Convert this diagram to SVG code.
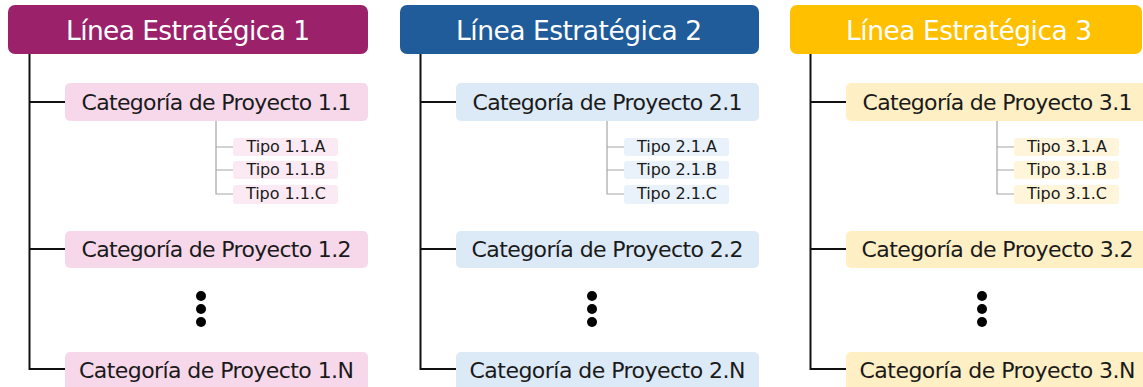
<svg xmlns="http://www.w3.org/2000/svg" width="1143" height="387" viewBox="0 0 1143 387">
<style>
text{font-family:"DejaVu Sans","Liberation Sans",Arial,sans-serif;text-anchor:middle}
.ht{font-size:26.5px;fill:#ffffff}
.ct{font-size:22px;fill:#1a1a1a}
.tt{font-size:16px;fill:#1a1a1a}
.main{fill:none;stroke:#111111;stroke-width:2}
.sub{fill:none;stroke:#a6a6a6;stroke-width:1.2}
.h1{fill:#9b216b}.c1{fill:#f6d8ea}.t1{fill:#fbeaf4}
.h2{fill:#1f5c99}.c2{fill:#dce9f6}.t2{fill:#e9f1fa}
.h3{fill:#ffc000}.c3{fill:#ffefc4}.t3{fill:#fff5da}
</style>
<g id="connectors">
<path class="main" d="M29.5 54V369H65M29.5 102H65M29.5 249H65"/>
<path class="sub" d="M216 121V194H233M216 147H233M216 170H233"/>
<path class="main" d="M420.5 54V369H456M420.5 102H456M420.5 249H456"/>
<path class="sub" d="M607 121V194H624M607 147H624M607 170H624"/>
<path class="main" d="M810.5 54V369H846M810.5 102H846M810.5 249H846"/>
<path class="sub" d="M997 121V194H1014M997 147H1014M997 170H1014"/>
</g>
<!-- Column 1 -->
<g id="linea1"><rect class="h1" x="8" y="5" width="360" height="49" rx="7"/><text class="ht" x="188" y="40" textLength="244">Línea Estratégica 1</text></g>
<g id="cat11"><rect class="c1" x="65" y="83" width="303" height="38" rx="5"/><text class="ct" x="216.5" y="110" textLength="270">Categoría de Proyecto 1.1</text></g>
<g id="tipo11a"><rect class="t1" x="233" y="138" width="105" height="18" rx="3"/><text class="tt" x="286" y="152" textLength="79">Tipo 1.1.A</text></g>
<g id="tipo11b"><rect class="t1" x="233" y="161" width="105" height="18" rx="3"/><text class="tt" x="286" y="175" textLength="79">Tipo 1.1.B</text></g>
<g id="tipo11c"><rect class="t1" x="233" y="185" width="105" height="19" rx="3"/><text class="tt" x="286" y="199" textLength="80">Tipo 1.1.C</text></g>
<g id="cat12"><rect class="c1" x="65" y="231" width="303" height="37" rx="5"/><text class="ct" x="216.5" y="257" textLength="270">Categoría de Proyecto 1.2</text></g>
<g id="dots1"><circle cx="201" cy="296" r="5"/><circle cx="201" cy="309" r="5"/><circle cx="201" cy="322" r="5"/></g>
<g id="cat1n"><rect class="c1" x="65" y="352" width="303" height="42" rx="5"/><text class="ct" x="216.5" y="378" textLength="275">Categoría de Proyecto 1.N</text></g>
<!-- Column 2 -->
<g id="linea2"><rect class="h2" x="400" y="5" width="359" height="49" rx="7"/><text class="ht" x="579" y="40" textLength="246">Línea Estratégica 2</text></g>
<g id="cat21"><rect class="c2" x="456" y="83" width="303" height="38" rx="5"/><text class="ct" x="607.5" y="110" textLength="270">Categoría de Proyecto 2.1</text></g>
<g id="tipo21a"><rect class="t2" x="624" y="138" width="105" height="18" rx="3"/><text class="tt" x="677" y="152" textLength="80">Tipo 2.1.A</text></g>
<g id="tipo21b"><rect class="t2" x="624" y="161" width="105" height="18" rx="3"/><text class="tt" x="677" y="175" textLength="80">Tipo 2.1.B</text></g>
<g id="tipo21c"><rect class="t2" x="624" y="185" width="105" height="19" rx="3"/><text class="tt" x="677" y="199" textLength="80">Tipo 2.1.C</text></g>
<g id="cat22"><rect class="c2" x="456" y="231" width="303" height="37" rx="5"/><text class="ct" x="607.5" y="257" textLength="272">Categoría de Proyecto 2.2</text></g>
<g id="dots2"><circle cx="592" cy="296" r="5"/><circle cx="592" cy="309" r="5"/><circle cx="592" cy="322" r="5"/></g>
<g id="cat2n"><rect class="c2" x="456" y="352" width="303" height="42" rx="5"/><text class="ct" x="607.5" y="378" textLength="276">Categoría de Proyecto 2.N</text></g>
<!-- Column 3 -->
<g id="linea3"><rect class="h3" x="790" y="5" width="352" height="49" rx="7"/><text class="ht" x="969" y="40" textLength="246">Línea Estratégica 3</text></g>
<g id="cat31"><rect class="c3" x="846" y="83" width="303" height="38" rx="5"/><text class="ct" x="997.5" y="110" textLength="270">Categoría de Proyecto 3.1</text></g>
<g id="tipo31a"><rect class="t3" x="1014" y="138" width="105" height="18" rx="3"/><text class="tt" x="1067" y="152" textLength="80">Tipo 3.1.A</text></g>
<g id="tipo31b"><rect class="t3" x="1014" y="161" width="105" height="18" rx="3"/><text class="tt" x="1067" y="175" textLength="80">Tipo 3.1.B</text></g>
<g id="tipo31c"><rect class="t3" x="1014" y="185" width="105" height="19" rx="3"/><text class="tt" x="1067" y="199" textLength="80">Tipo 3.1.C</text></g>
<g id="cat32"><rect class="c3" x="846" y="231" width="303" height="37" rx="5"/><text class="ct" x="997.5" y="257" textLength="272">Categoría de Proyecto 3.2</text></g>
<g id="dots3"><circle cx="982" cy="296" r="5"/><circle cx="982" cy="309" r="5"/><circle cx="982" cy="322" r="5"/></g>
<g id="cat3n"><rect class="c3" x="846" y="352" width="303" height="42" rx="5"/><text class="ct" x="997.5" y="378" textLength="276">Categoría de Proyecto 3.N</text></g>
</svg>
